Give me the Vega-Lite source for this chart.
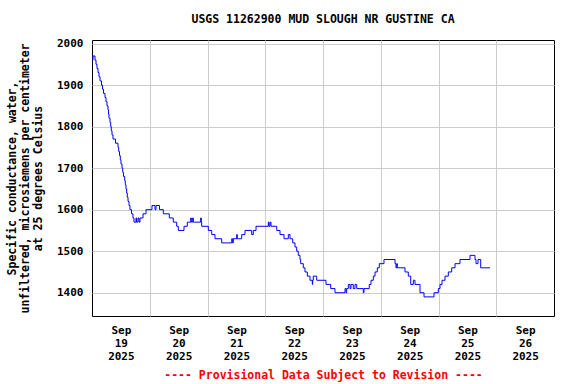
{
  "$schema": "https://vega.github.io/schema/vega-lite/v6.json",
  "width": 462,
  "height": 276,
  "autosize": {"type": "none"},
  "padding": {"left": 92, "top": 40, "right": 22, "bottom": 68},
  "background": "white",
  "title": {
    "text": "USGS 11262900 MUD SLOUGH NR GUSTINE CA",
    "anchor": "middle",
    "frame": "group",
    "offset": 12,
    "font": "DejaVu Sans Mono",
    "fontSize": 11.5,
    "fontWeight": "bold",
    "color": "black"
  },
  "data": {
    "values": [
      {"t": "2025-09-19T00:00:00Z", "v": 1960},
      {"t": "2025-09-19T00:25:00Z", "v": 1970},
      {"t": "2025-09-19T01:15:00Z", "v": 1960},
      {"t": "2025-09-19T01:40:00Z", "v": 1950},
      {"t": "2025-09-19T02:05:00Z", "v": 1940},
      {"t": "2025-09-19T02:30:00Z", "v": 1930},
      {"t": "2025-09-19T02:55:00Z", "v": 1920},
      {"t": "2025-09-19T03:20:00Z", "v": 1910},
      {"t": "2025-09-19T03:57:00Z", "v": 1900},
      {"t": "2025-09-19T04:22:00Z", "v": 1890},
      {"t": "2025-09-19T04:47:00Z", "v": 1880},
      {"t": "2025-09-19T05:24:00Z", "v": 1870},
      {"t": "2025-09-19T05:49:00Z", "v": 1860},
      {"t": "2025-09-19T06:14:00Z", "v": 1850},
      {"t": "2025-09-19T06:39:00Z", "v": 1840},
      {"t": "2025-09-19T06:51:00Z", "v": 1830},
      {"t": "2025-09-19T07:04:00Z", "v": 1820},
      {"t": "2025-09-19T07:29:00Z", "v": 1810},
      {"t": "2025-09-19T07:46:00Z", "v": 1800},
      {"t": "2025-09-19T08:01:00Z", "v": 1790},
      {"t": "2025-09-19T08:19:00Z", "v": 1780},
      {"t": "2025-09-19T08:44:00Z", "v": 1770},
      {"t": "2025-09-19T09:46:00Z", "v": 1760},
      {"t": "2025-09-19T10:48:00Z", "v": 1750},
      {"t": "2025-09-19T11:06:00Z", "v": 1740},
      {"t": "2025-09-19T11:26:00Z", "v": 1730},
      {"t": "2025-09-19T11:46:00Z", "v": 1720},
      {"t": "2025-09-19T12:03:00Z", "v": 1710},
      {"t": "2025-09-19T12:28:00Z", "v": 1700},
      {"t": "2025-09-19T12:46:00Z", "v": 1690},
      {"t": "2025-09-19T13:05:00Z", "v": 1680},
      {"t": "2025-09-19T13:35:00Z", "v": 1670},
      {"t": "2025-09-19T13:50:00Z", "v": 1660},
      {"t": "2025-09-19T14:08:00Z", "v": 1650},
      {"t": "2025-09-19T14:25:00Z", "v": 1640},
      {"t": "2025-09-19T14:40:00Z", "v": 1630},
      {"t": "2025-09-19T14:58:00Z", "v": 1620},
      {"t": "2025-09-19T15:23:00Z", "v": 1610},
      {"t": "2025-09-19T15:47:00Z", "v": 1600},
      {"t": "2025-09-19T16:25:00Z", "v": 1590},
      {"t": "2025-09-19T17:02:00Z", "v": 1580},
      {"t": "2025-09-19T17:27:00Z", "v": 1570},
      {"t": "2025-09-19T18:17:00Z", "v": 1580},
      {"t": "2025-09-19T18:30:00Z", "v": 1570},
      {"t": "2025-09-19T19:07:00Z", "v": 1580},
      {"t": "2025-09-19T19:32:00Z", "v": 1570},
      {"t": "2025-09-19T19:57:00Z", "v": 1580},
      {"t": "2025-09-19T21:12:00Z", "v": 1590},
      {"t": "2025-09-19T22:27:00Z", "v": 1600},
      {"t": "2025-09-20T00:56:00Z", "v": 1610},
      {"t": "2025-09-20T02:11:00Z", "v": 1600},
      {"t": "2025-09-20T02:36:00Z", "v": 1610},
      {"t": "2025-09-20T04:03:00Z", "v": 1600},
      {"t": "2025-09-20T05:38:00Z", "v": 1590},
      {"t": "2025-09-20T08:08:00Z", "v": 1580},
      {"t": "2025-09-20T09:47:00Z", "v": 1570},
      {"t": "2025-09-20T11:12:00Z", "v": 1560},
      {"t": "2025-09-20T11:52:00Z", "v": 1550},
      {"t": "2025-09-20T14:14:00Z", "v": 1560},
      {"t": "2025-09-20T15:37:00Z", "v": 1570},
      {"t": "2025-09-20T17:01:00Z", "v": 1580},
      {"t": "2025-09-20T17:16:00Z", "v": 1570},
      {"t": "2025-09-20T17:51:00Z", "v": 1580},
      {"t": "2025-09-20T18:06:00Z", "v": 1570},
      {"t": "2025-09-20T21:10:00Z", "v": 1580},
      {"t": "2025-09-20T21:25:00Z", "v": 1570},
      {"t": "2025-09-20T21:35:00Z", "v": 1560},
      {"t": "2025-09-21T00:20:00Z", "v": 1550},
      {"t": "2025-09-21T01:45:00Z", "v": 1540},
      {"t": "2025-09-21T03:07:00Z", "v": 1530},
      {"t": "2025-09-21T05:54:00Z", "v": 1520},
      {"t": "2025-09-21T10:04:00Z", "v": 1530},
      {"t": "2025-09-21T10:28:00Z", "v": 1520},
      {"t": "2025-09-21T10:43:00Z", "v": 1530},
      {"t": "2025-09-21T12:08:00Z", "v": 1540},
      {"t": "2025-09-21T12:23:00Z", "v": 1530},
      {"t": "2025-09-21T14:13:00Z", "v": 1540},
      {"t": "2025-09-21T15:35:00Z", "v": 1550},
      {"t": "2025-09-21T18:22:00Z", "v": 1540},
      {"t": "2025-09-21T19:02:00Z", "v": 1550},
      {"t": "2025-09-21T20:10:00Z", "v": 1560},
      {"t": "2025-09-22T01:16:00Z", "v": 1570},
      {"t": "2025-09-22T01:34:00Z", "v": 1560},
      {"t": "2025-09-22T01:59:00Z", "v": 1570},
      {"t": "2025-09-22T02:23:00Z", "v": 1560},
      {"t": "2025-09-22T04:46:00Z", "v": 1550},
      {"t": "2025-09-22T06:08:00Z", "v": 1540},
      {"t": "2025-09-22T07:48:00Z", "v": 1530},
      {"t": "2025-09-22T09:35:00Z", "v": 1540},
      {"t": "2025-09-22T10:17:00Z", "v": 1530},
      {"t": "2025-09-22T11:25:00Z", "v": 1520},
      {"t": "2025-09-22T12:22:00Z", "v": 1510},
      {"t": "2025-09-22T13:04:00Z", "v": 1500},
      {"t": "2025-09-22T13:44:00Z", "v": 1490},
      {"t": "2025-09-22T14:26:00Z", "v": 1480},
      {"t": "2025-09-22T14:44:00Z", "v": 1470},
      {"t": "2025-09-22T15:49:00Z", "v": 1460},
      {"t": "2025-09-22T16:31:00Z", "v": 1450},
      {"t": "2025-09-22T17:29:00Z", "v": 1440},
      {"t": "2025-09-22T18:36:00Z", "v": 1430},
      {"t": "2025-09-22T19:34:00Z", "v": 1420},
      {"t": "2025-09-22T19:43:00Z", "v": 1430},
      {"t": "2025-09-22T19:58:00Z", "v": 1440},
      {"t": "2025-09-22T21:23:00Z", "v": 1430},
      {"t": "2025-09-23T01:15:00Z", "v": 1420},
      {"t": "2025-09-23T03:12:00Z", "v": 1410},
      {"t": "2025-09-23T04:59:00Z", "v": 1400},
      {"t": "2025-09-23T09:09:00Z", "v": 1410},
      {"t": "2025-09-23T09:34:00Z", "v": 1400},
      {"t": "2025-09-23T09:51:00Z", "v": 1410},
      {"t": "2025-09-23T10:31:00Z", "v": 1420},
      {"t": "2025-09-23T11:13:00Z", "v": 1410},
      {"t": "2025-09-23T11:38:00Z", "v": 1420},
      {"t": "2025-09-23T12:35:00Z", "v": 1410},
      {"t": "2025-09-23T13:18:00Z", "v": 1420},
      {"t": "2025-09-23T14:01:00Z", "v": 1410},
      {"t": "2025-09-23T16:45:00Z", "v": 1400},
      {"t": "2025-09-23T17:02:00Z", "v": 1410},
      {"t": "2025-09-23T19:14:00Z", "v": 1420},
      {"t": "2025-09-23T19:57:00Z", "v": 1430},
      {"t": "2025-09-23T20:55:00Z", "v": 1440},
      {"t": "2025-09-23T21:37:00Z", "v": 1450},
      {"t": "2025-09-23T22:34:00Z", "v": 1460},
      {"t": "2025-09-23T23:24:00Z", "v": 1470},
      {"t": "2025-09-24T01:21:00Z", "v": 1480},
      {"t": "2025-09-24T05:56:00Z", "v": 1470},
      {"t": "2025-09-24T06:20:00Z", "v": 1460},
      {"t": "2025-09-24T06:38:00Z", "v": 1470},
      {"t": "2025-09-24T06:53:00Z", "v": 1460},
      {"t": "2025-09-24T10:05:00Z", "v": 1450},
      {"t": "2025-09-24T11:27:00Z", "v": 1440},
      {"t": "2025-09-24T12:27:00Z", "v": 1420},
      {"t": "2025-09-24T13:32:00Z", "v": 1430},
      {"t": "2025-09-24T14:14:00Z", "v": 1420},
      {"t": "2025-09-24T16:19:00Z", "v": 1400},
      {"t": "2025-09-24T17:59:00Z", "v": 1390},
      {"t": "2025-09-24T22:08:00Z", "v": 1400},
      {"t": "2025-09-24T23:55:00Z", "v": 1410},
      {"t": "2025-09-25T00:38:00Z", "v": 1420},
      {"t": "2025-09-25T01:28:00Z", "v": 1430},
      {"t": "2025-09-25T02:43:00Z", "v": 1440},
      {"t": "2025-09-25T04:05:00Z", "v": 1450},
      {"t": "2025-09-25T05:29:00Z", "v": 1460},
      {"t": "2025-09-25T06:52:00Z", "v": 1470},
      {"t": "2025-09-25T08:56:00Z", "v": 1480},
      {"t": "2025-09-25T13:06:00Z", "v": 1490},
      {"t": "2025-09-25T15:10:00Z", "v": 1480},
      {"t": "2025-09-25T15:35:00Z", "v": 1470},
      {"t": "2025-09-25T16:25:00Z", "v": 1480},
      {"t": "2025-09-25T17:32:00Z", "v": 1460},
      {"t": "2025-09-25T21:24:00Z", "v": 1460}
    ]
  },
  "encoding": {
    "y": {
      "field": "v",
      "type": "quantitative",
      "scale": {"domain": [1344, 2008.5], "nice": false, "zero": false},
      "axis": {
        "values": [1400, 1500, 1600, 1700, 1800, 1900, 2000],
        "format": "d",
        "grid": true,
        "gridColor": "#cccccc",
        "gridWidth": 1,
        "domain": false,
        "ticks": false,
        "tickSize": 0,
        "labelPadding": 9,
        "labelFont": "DejaVu Sans Mono",
        "labelFontSize": 11,
        "labelFontWeight": "bold",
        "labelColor": "black",
        "title": ["Specific conductance, water,", "unfiltered, microsiemens per centimeter", "at 25 degrees Celsius"],
        "titleFont": "DejaVu Sans Mono",
        "titleFontSize": 11.5,
        "titleFontWeight": "bold",
        "titleColor": "black",
        "titleLineHeight": 13,
        "titleAngle": -90,
        "titleAlign": "center",
        "titleBaseline": "bottom",
        "titleX": -75,
        "titleY": 138
      }
    }
  },
  "layer": [
    {
      "mark": {"type": "line", "interpolate": "step-after", "color": "#0000ff", "strokeWidth": 1},
      "encoding": {
        "x": {
          "field": "t",
          "type": "temporal",
          "scale": {
            "type": "utc",
            "domain": [
              {"year": 2025, "month": 9, "date": 19, "utc": true},
              {"year": 2025, "month": 9, "date": 27, "utc": true}
            ],
            "nice": false
          },
          "axis": {
            "orient": "bottom",
            "values": [
              {"year": 2025, "month": 9, "date": 20, "utc": true},
              {"year": 2025, "month": 9, "date": 21, "utc": true},
              {"year": 2025, "month": 9, "date": 22, "utc": true},
              {"year": 2025, "month": 9, "date": 23, "utc": true},
              {"year": 2025, "month": 9, "date": 24, "utc": true},
              {"year": 2025, "month": 9, "date": 25, "utc": true},
              {"year": 2025, "month": 9, "date": 26, "utc": true}
            ],
            "grid": true,
            "gridColor": "#cccccc",
            "gridWidth": 1,
            "labels": false,
            "ticks": false,
            "domain": false,
            "title": null
          }
        }
      }
    },
    {
      "mark": {"type": "line", "opacity": 0},
      "encoding": {
        "x": {
          "field": "t",
          "type": "temporal",
          "axis": {
            "orient": "bottom",
            "values": [
              {"year": 2025, "month": 9, "date": 19, "hours": 12, "utc": true},
              {"year": 2025, "month": 9, "date": 20, "hours": 12, "utc": true},
              {"year": 2025, "month": 9, "date": 21, "hours": 12, "utc": true},
              {"year": 2025, "month": 9, "date": 22, "hours": 12, "utc": true},
              {"year": 2025, "month": 9, "date": 23, "hours": 12, "utc": true},
              {"year": 2025, "month": 9, "date": 24, "hours": 12, "utc": true},
              {"year": 2025, "month": 9, "date": 25, "hours": 12, "utc": true},
              {"year": 2025, "month": 9, "date": 26, "hours": 12, "utc": true}
            ],
            "grid": false,
            "ticks": false,
            "tickSize": 0,
            "domain": false,
            "labelExpr": "[utcFormat(datum.value, '%b'), utcFormat(datum.value, '%d'), utcFormat(datum.value, '%Y')]",
            "labelPadding": 8,
            "labelLineHeight": 13,
            "labelFont": "DejaVu Sans Mono",
            "labelFontSize": 11,
            "labelFontWeight": "bold",
            "labelColor": "black",
            "labelFlush": false,
            "labelOverlap": false,
            "title": "---- Provisional Data Subject to Revision ----",
            "titleFont": "DejaVu Sans Mono",
            "titleFontSize": 11.5,
            "titleFontWeight": "bold",
            "titleColor": "#ff0000",
            "titleBaseline": "middle",
            "titleAlign": "center",
            "titleX": 231,
            "titleY": 59
          }
        }
      }
    }
  ],
  "resolve": {"axis": {"x": "independent"}},
  "config": {
    "font": "DejaVu Sans Mono",
    "view": {"stroke": "#000000", "strokeWidth": 1}
  }
}
